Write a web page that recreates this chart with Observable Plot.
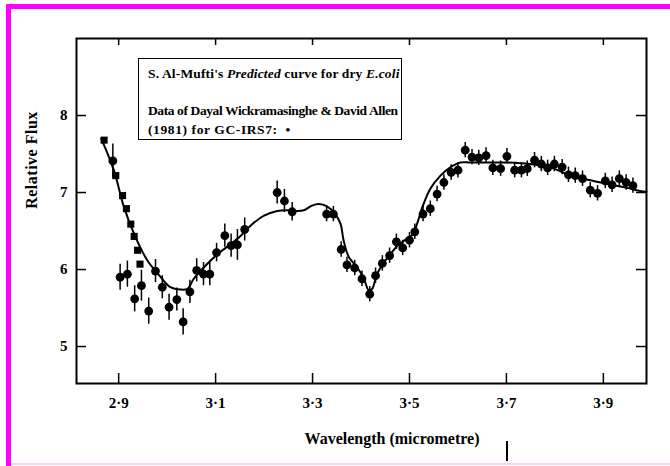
<!DOCTYPE html>
<html><head><meta charset="utf-8">
<script src="https://cdn.jsdelivr.net/npm/d3@7"></script>
<script src="https://cdn.jsdelivr.net/npm/@observablehq/plot@0.6"></script>
<style>
body{margin:0;background:#fff;}
#wrap{position:relative;width:670px;height:466px;overflow:hidden;font-family:"Liberation Serif","Times New Roman",serif;color:#000;}
#wrap svg{position:absolute;left:0;top:0;}
.mag-top{position:absolute;left:6px;top:4px;width:664px;height:5px;background:#ff00ff;}
.mag-left{position:absolute;left:6px;top:4px;width:5px;height:462px;background:#ff00ff;}
.pink-bottom{position:absolute;left:11px;top:463px;width:659px;height:2px;background:#f6d2f6;}
.legend{position:absolute;left:138px;top:58px;width:264px;height:82px;border:1.5px solid #000;box-sizing:border-box;font-weight:bold;font-size:13.5px;background:#fff;}
.legend div{position:absolute;left:9px;line-height:16px;white-space:nowrap;}
.ylab{position:absolute;left:-68px;top:151px;width:200px;line-height:18px;text-align:center;font-weight:bold;font-size:16px;letter-spacing:0.5px;transform:rotate(-90deg);}
.xlab{position:absolute;left:242px;top:430px;width:300px;line-height:18px;text-align:center;font-weight:bold;font-size:16px;}
.scratch{position:absolute;left:506px;top:441px;width:1.5px;height:20px;background:#000;}
</style>
</head><body>
<div id="wrap">
<div class="mag-top"></div><div class="mag-left"></div><div class="pink-bottom"></div>
</div>
<script>
// ---- axes ----
const xDomain = [2.813, 3.989];
const yDomain = [4.52, 9.0];
const xTicks = [2.9, 3.1, 3.3, 3.5, 3.7, 3.9];
const yTicks = [5, 6, 7, 8];

// ---- predicted curve (S. Al-Mufti) ----
const curveX = [2.864, 2.890, 2.911, 2.932, 2.959, 2.987, 3.007, 3.028, 3.042, 3.055, 3.076, 3.104, 3.131, 3.152, 3.172, 3.200, 3.227, 3.248, 3.268, 3.282, 3.299, 3.313, 3.330, 3.347, 3.358, 3.364, 3.375, 3.392, 3.406, 3.416, 3.423, 3.433, 3.447, 3.461, 3.475, 3.488, 3.506, 3.516, 3.526, 3.543, 3.564, 3.585, 3.605, 3.626, 3.660, 3.701, 3.749, 3.798, 3.832, 3.866, 3.908, 3.949, 3.976, 3.989];
const curveY = [7.70, 7.29, 6.81, 6.46, 6.12, 5.90, 5.77, 5.74, 5.75, 5.88, 6.03, 6.20, 6.33, 6.44, 6.57, 6.70, 6.76, 6.77, 6.76, 6.77, 6.83, 6.85, 6.82, 6.72, 6.59, 6.38, 6.16, 6.03, 5.88, 5.73, 5.75, 5.94, 6.09, 6.20, 6.31, 6.37, 6.45, 6.60, 6.80, 7.05, 7.22, 7.33, 7.39, 7.39, 7.39, 7.39, 7.37, 7.31, 7.22, 7.17, 7.11, 7.06, 7.02, 7.01];

// ---- observed data, squares ----
const sqX = [2.870, 2.894, 2.908, 2.916, 2.925, 2.932, 2.939, 2.944];
const sqY = [7.68, 7.22, 6.96, 6.79, 6.59, 6.43, 6.25, 6.07];

// ---- observed data, circles with error bars (GC-IRS7) ----
const ptX = [2.888, 2.903, 2.918, 2.933, 2.947, 2.962, 2.976, 2.990, 3.004, 3.020, 3.033, 3.047, 3.061, 3.075, 3.088, 3.102, 3.119, 3.132, 3.145, 3.160, 3.227, 3.242, 3.258, 3.329, 3.343, 3.359, 3.371, 3.387, 3.402, 3.418, 3.430, 3.444, 3.459, 3.473, 3.486, 3.500, 3.511, 3.528, 3.543, 3.557, 3.571, 3.586, 3.600, 3.615, 3.629, 3.643, 3.658, 3.672, 3.688, 3.701, 3.717, 3.731, 3.743, 3.758, 3.772, 3.785, 3.799, 3.815, 3.828, 3.842, 3.857, 3.873, 3.888, 3.904, 3.918, 3.933, 3.947, 3.961];
const ptY = [7.41, 5.90, 5.94, 5.62, 5.79, 5.46, 5.98, 5.77, 5.51, 5.61, 5.32, 5.71, 5.99, 5.94, 5.94, 6.22, 6.44, 6.31, 6.32, 6.52, 7.00, 6.89, 6.75, 6.72, 6.72, 6.26, 6.06, 6.02, 5.88, 5.68, 5.92, 6.08, 6.18, 6.36, 6.28, 6.38, 6.49, 6.72, 6.79, 6.98, 7.13, 7.26, 7.29, 7.55, 7.46, 7.45, 7.48, 7.32, 7.31, 7.47, 7.29, 7.29, 7.31, 7.42, 7.37, 7.32, 7.37, 7.33, 7.23, 7.22, 7.18, 7.03, 6.99, 7.15, 7.10, 7.18, 7.13, 7.09];
const ptErr = [0.22, 0.17, 0.17, 0.17, 0.20, 0.17, 0.15, 0.15, 0.17, 0.15, 0.17, 0.15, 0.15, 0.15, 0.15, 0.12, 0.15, 0.15, 0.20, 0.15, 0.15, 0.15, 0.12, 0.10, 0.10, 0.10, 0.10, 0.10, 0.10, 0.10, 0.10, 0.10, 0.10, 0.10, 0.10, 0.10, 0.10, 0.10, 0.10, 0.10, 0.10, 0.10, 0.10, 0.10, 0.10, 0.10, 0.10, 0.10, 0.10, 0.10, 0.10, 0.10, 0.10, 0.10, 0.10, 0.10, 0.10, 0.10, 0.10, 0.10, 0.10, 0.10, 0.10, 0.10, 0.10, 0.10, 0.10, 0.10];

const curve = curveX.map((x, i) => ({x, y: curveY[i]}));
const squares = sqX.map((x, i) => ({x, y: sqY[i]}));
const pts = ptX.map((x, i) => ({x, y: ptY[i], e: ptErr[i]}));
const fmt = d => d.toFixed(1).replace(".", "\u00b7");

const W = 670, H = 466, ML = 76, MR = 24, MT = 38, MB = 83;
const PW = W - ML - MR, PH = H - MT - MB;

const chart = Plot.plot({
  width: W, height: H,
  marginLeft: ML, marginRight: MR, marginTop: MT, marginBottom: MB,
  x: {domain: xDomain},
  y: {domain: yDomain},
  style: {fontFamily: "'Liberation Serif', 'Times New Roman', serif", fontWeight: "bold", fontSize: "15px", background: "transparent", color: "#000"},
  marks: [
    Plot.axisX(xTicks, {anchor: "bottom", tickSize: 0, tickPadding: 14, tickFormat: fmt, label: null}),
    Plot.axisY(yTicks, {anchor: "left", tickSize: 0, tickPadding: 9, tickFormat: d => String(d), label: null}),
    // inward tick marks on all four sides
    Plot.tickX(xTicks, {x: d => d, insetTop: PH - 10, stroke: "#000", strokeWidth: 1.5}),
    Plot.tickX(xTicks, {x: d => d, insetBottom: PH - 7, stroke: "#000", strokeWidth: 1.5}),
    Plot.tickY(yTicks, {y: d => d, insetRight: PW - 10, stroke: "#000", strokeWidth: 1.5}),
    Plot.tickY(yTicks, {y: d => d, insetLeft: PW - 10, stroke: "#000", strokeWidth: 1.5}),
    Plot.frame({stroke: "#000", strokeWidth: 2}),
    Plot.line(curve, {x: "x", y: "y", curve: "catmull-rom", stroke: "#000", strokeWidth: 2}),
    Plot.ruleX(pts, {x: "x", y1: d => d.y - d.e, y2: d => d.y + d.e, stroke: "#000", strokeWidth: 1.5}),
    Plot.dot(pts, {x: "x", y: "y", r: 4.4, fill: "#000"}),
    Plot.dot(squares, {x: "x", y: "y", symbol: "square", r: 4, fill: "#000"})
  ]
});
const wrap = document.getElementById("wrap");
wrap.insertBefore(chart, wrap.firstChild);

const html = `
<div class="legend">
  <div style="top:7px;letter-spacing:0.15px">S. Al-Mufti's <i>Predicted</i> curve for dry <i>E.coli</i></div>
  <div style="top:44px;letter-spacing:-0.4px">Data of Dayal Wickramasinghe &amp; David Allen</div>
  <div style="top:63px;letter-spacing:0.6px">(1981) for GC-IRS7:&nbsp; \u2022</div>
</div>
<div class="ylab">Relative Flux</div>
<div class="xlab">Wavelength (micrometre)</div>
<div class="scratch"></div>`;
wrap.insertAdjacentHTML("beforeend", html);
</script>
</body></html>
